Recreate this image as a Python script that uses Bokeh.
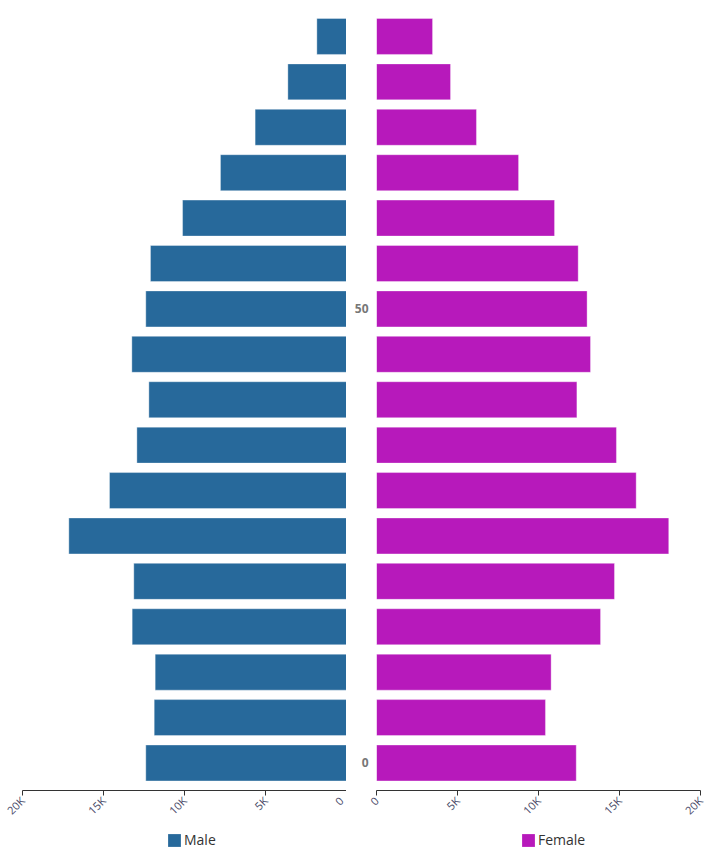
from bokeh.plotting import figure
from bokeh.layouts import row, column
from bokeh.models import Range1d, FixedTicker, Legend, LegendItem
from bokeh.embed import file_html
from bokeh.resources import INLINE

# age group starts (bottom to top)
ages = [0, 5, 10, 15, 20, 25, 30, 35, 40, 45, 50, 55, 60, 65, 70, 75, 80]
male = [12390, 11870, 11810, 13230, 13130, 17140, 14630, 12940, 12200, 13250,
        12390, 12100, 10120, 7780, 5640, 3620, 1830]
female = [12330, 10430, 10780, 13830, 14690, 18040, 16030, 14810, 12370, 13210,
          13000, 12450, 10990, 8770, 6170, 4570, 3460]
x_ticks = [0, 5000, 10000, 15000, 20000]
x_tick_labels = ["0", "5K", "10K", "15K", "20K"]
age_ticks = [0, 50]
series_names = ["Male", "Female"]

MALE_C = "#27699b"
FEMALE_C = "#b719bb"
FONT = "Open Sans"
BAR_H = 3.96
Y_RANGE = (-3.03, 83.08)


def style_x_axis(ax):
    ax.ticker = FixedTicker(ticks=x_ticks)
    ax.major_label_overrides = {t: l for t, l in zip(x_ticks, x_tick_labels)}
    ax.major_label_orientation = 0.785398
    ax.major_label_text_font = FONT
    ax.major_label_text_font_size = "11px"
    ax.major_label_text_color = "#4a4a68"
    ax.axis_line_color = "#333333"
    ax.major_tick_line_color = "#333333"
    ax.major_tick_out = 5
    ax.major_tick_in = 0
    ax.minor_tick_line_color = None
    ax.major_label_standoff = 3
    ax.axis_label = None


def legend_fig(width, color, label, values, x_off):
    # legend-only strip; its series renderer is hidden, only the swatch shows
    f = figure(frame_width=width, frame_height=35,
               x_range=Range1d(0, 1), y_range=Range1d(0, 1),
               output_backend="svg", toolbar_location=None,
               x_axis_location=None, y_axis_location=None, min_border=0,
               border_fill_color="white", background_fill_color="white")
    f.outline_line_color = None
    f.grid.visible = False
    r = f.hbar(y=ages, left=0, right=values, height=BAR_H, fill_color=color,
               line_color=None, visible=False)
    leg = Legend(items=[LegendItem(label=label, renderers=[r])],
                 location=(x_off, 11), orientation="horizontal",
                 border_line_color=None, background_fill_alpha=0,
                 inactive_fill_alpha=0,
                 glyph_width=16, glyph_height=16, label_standoff=2,
                 label_text_font=FONT, label_text_font_size="14px",
                 label_text_color="#333333", label_height=16,
                 padding=1, margin=0, spacing=0)
    f.add_layout(leg)
    return f


p1 = figure(frame_width=324, frame_height=782,
            x_range=Range1d(20000, 0), y_range=Range1d(*Y_RANGE),
            output_backend="svg", toolbar_location=None,
            min_border_left=22, min_border_right=0, min_border_top=8,
            min_border_bottom=0, y_axis_location=None)
r1 = p1.hbar(y=ages, left=0, right=male, height=BAR_H, fill_color=MALE_C,
             line_color="white", line_alpha=0.35, line_width=1)
p1.outline_line_color = None
p1.grid.visible = False
style_x_axis(p1.xaxis[0])

p2 = figure(frame_width=324, frame_height=782,
            x_range=Range1d(0, 20000), y_range=Range1d(*Y_RANGE),
            output_backend="svg", toolbar_location=None,
            min_border_left=30, min_border_right=14, min_border_top=8,
            min_border_bottom=0)
r2 = p2.hbar(y=ages, left=0, right=female, height=BAR_H, fill_color=FEMALE_C,
             line_color="white", line_alpha=0.35, line_width=1)
p2.outline_line_color = None
p2.grid.visible = False
style_x_axis(p2.xaxis[0])
ya = p2.yaxis[0]
ya.ticker = FixedTicker(ticks=age_ticks)
ya.axis_line_color = None
ya.major_tick_line_color = None
ya.major_tick_out = 0
ya.major_tick_in = 0
ya.minor_tick_line_color = None
ya.minor_tick_out = 0
ya.major_label_text_font = FONT
ya.major_label_text_font_style = "bold"
ya.major_label_text_font_size = "12px"
ya.major_label_text_color = "#777777"
ya.major_label_standoff = 8

l1 = legend_fig(346, MALE_C, series_names[0], male, 166)
l2 = legend_fig(368, FEMALE_C, series_names[1], female, 174)

layout = column(row(p1, p2), row(l1, l2))
open("out.html", "w").write(file_html(layout, INLINE))
